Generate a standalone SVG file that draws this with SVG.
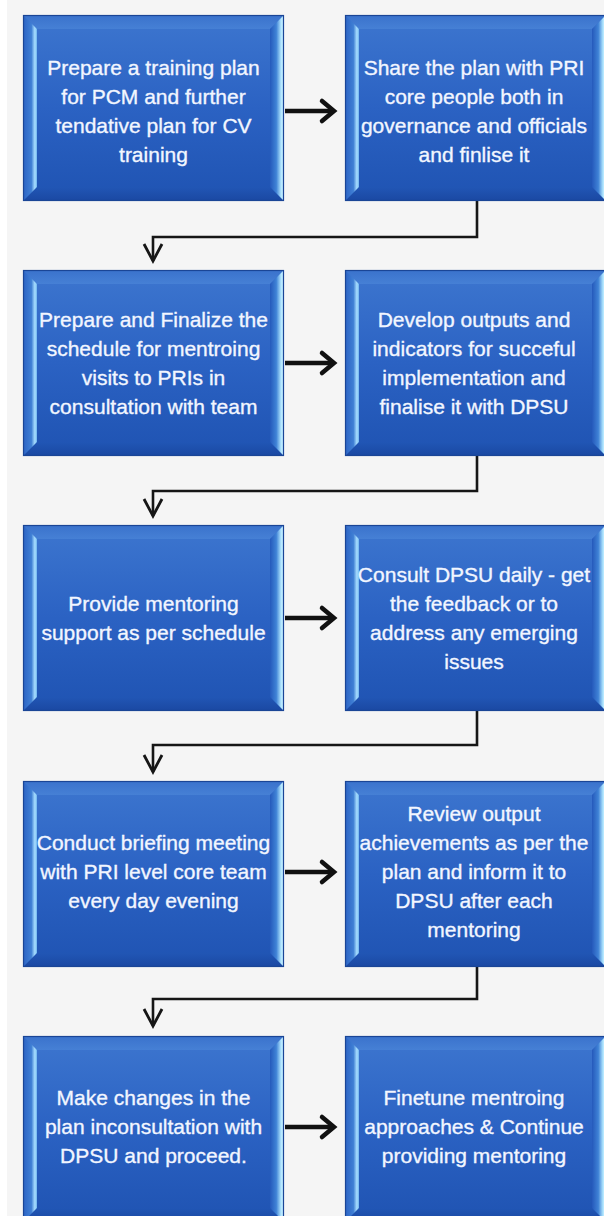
<svg xmlns="http://www.w3.org/2000/svg" xmlns:xlink="http://www.w3.org/1999/xlink" width="604" height="1216" viewBox="0 0 604 1216">
  <style>
    .lbl { font-family: "Liberation Sans", Arial, sans-serif; font-size: 21px; fill: #f2f6ff; stroke: #f2f6ff; stroke-width: 0.35; text-anchor: middle; }
    .flow { fill: none; stroke: #111; stroke-width: 4.5; }
    .elbow { fill: none; stroke: #161616; stroke-width: 2.6; stroke-linejoin: miter; }
  </style>
  <defs>
    <linearGradient id="faceGrad" x1="0" y1="0" x2="0" y2="1">
      <stop offset="0" stop-color="#3d76cf"/>
      <stop offset="0.5" stop-color="#2b62c3"/>
      <stop offset="1" stop-color="#1f53b2"/>
    </linearGradient>
    <linearGradient id="leftBevel" x1="0" y1="0" x2="1" y2="0">
      <stop offset="0" stop-color="#2c63c4"/>
      <stop offset="0.6" stop-color="#3f7fd4"/>
      <stop offset="0.85" stop-color="#a9dfff"/>
      <stop offset="1" stop-color="#6fb4ee"/>
    </linearGradient>
    <linearGradient id="rightBevel" x1="0" y1="0" x2="1" y2="0">
      <stop offset="0" stop-color="#2559bb"/>
      <stop offset="0.45" stop-color="#3f82d6"/>
      <stop offset="0.8" stop-color="#b4e8ff"/>
      <stop offset="1" stop-color="#cdf1ff"/>
    </linearGradient>
    <linearGradient id="topBevel" x1="0" y1="0" x2="0" y2="1">
      <stop offset="0" stop-color="#3a72cc"/>
      <stop offset="1" stop-color="#4680d5"/>
    </linearGradient>
    <linearGradient id="bottomBevel" x1="0" y1="0" x2="0" y2="1">
      <stop offset="0" stop-color="#2156b5"/>
      <stop offset="1" stop-color="#1a48a2"/>
    </linearGradient>

    <!-- bevelled process box, 261 x 186 -->
    <g id="bevelBox">
      <rect x="0" y="0" width="261" height="186" fill="url(#faceGrad)"/>
      <polygon points="0,0 261,0 247,14 14,14" fill="url(#topBevel)"/>
      <polygon points="0,186 261,186 247,172 14,172" fill="url(#bottomBevel)"/>
      <polygon points="0,0 14,14 14,172 0,186" fill="url(#leftBevel)"/>
      <polygon points="261,0 247,14 247,172 261,186" fill="url(#rightBevel)"/>
      <rect x="0.5" y="0.5" width="260" height="185" fill="none" stroke="#1a4596" stroke-width="1.2"/>
    </g>

    <marker id="chevronBold" markerUnits="userSpaceOnUse" viewBox="-20 -14 24 28" markerWidth="24" markerHeight="28" refX="0" refY="0" orient="auto">
      <path d="M -12,-10 L 0,0 L -12,10" fill="none" stroke="#111" stroke-width="4.5" stroke-linecap="round"/>
    </marker>
    <marker id="chevronThin" markerUnits="userSpaceOnUse" viewBox="-22 -12 26 24" markerWidth="26" markerHeight="24" refX="0" refY="0" orient="auto">
      <path d="M -17,-9 L 0,0 L -17,9" fill="none" stroke="#161616" stroke-width="2.8"/>
    </marker>
  </defs>

  <!-- page -->
  <rect x="0" y="0" width="604" height="1216" fill="#f5f5f5"/>
  <rect x="0" y="0" width="7" height="1216" fill="#ffffff"/>

  <!-- connectors -->
  <g id="connectors">
    <line class="flow" x1="285" y1="111" x2="334" y2="111" marker-end="url(#chevronBold)"/>
    <line class="flow" x1="285" y1="363" x2="334" y2="363" marker-end="url(#chevronBold)"/>
    <line class="flow" x1="285" y1="618" x2="334" y2="618" marker-end="url(#chevronBold)"/>
    <line class="flow" x1="285" y1="872" x2="334" y2="872" marker-end="url(#chevronBold)"/>
    <line class="flow" x1="285" y1="1127" x2="334" y2="1127" marker-end="url(#chevronBold)"/>

    <polyline class="elbow" points="477,201 477,237 153,237 153,261" marker-end="url(#chevronThin)"/>
    <polyline class="elbow" points="477,456 477,491 153,491 153,516" marker-end="url(#chevronThin)"/>
    <polyline class="elbow" points="477,711 477,745 153,745 153,772" marker-end="url(#chevronThin)"/>
    <polyline class="elbow" points="477,967 477,999 153,999 153,1026" marker-end="url(#chevronThin)"/>
  </g>

  <!-- row 1 -->
  <g id="node-training-plan">
    <use xlink:href="#bevelBox" x="23" y="15"/>
    <text class="lbl" x="153.5" y="75">Prepare a training plan</text>
    <text class="lbl" x="153.5" y="104">for PCM  and further</text>
    <text class="lbl" x="153.5" y="133">tendative plan for CV</text>
    <text class="lbl" x="153.5" y="162">training</text>
  </g>
  <g id="node-share-plan">
    <use xlink:href="#bevelBox" x="345" y="15"/>
    <text class="lbl" x="474" y="75">Share the plan with PRI</text>
    <text class="lbl" x="474" y="104">core people both in</text>
    <text class="lbl" x="474" y="133">governance and officials</text>
    <text class="lbl" x="474" y="162">and finlise it</text>
  </g>

  <!-- row 2 -->
  <g id="node-schedule">
    <use xlink:href="#bevelBox" x="23" y="270"/>
    <text class="lbl" x="153.5" y="327">Prepare and Finalize the</text>
    <text class="lbl" x="153.5" y="356">schedule for mentroing</text>
    <text class="lbl" x="153.5" y="385">visits to PRIs in</text>
    <text class="lbl" x="153.5" y="414">consultation with team</text>
  </g>
  <g id="node-outputs">
    <use xlink:href="#bevelBox" x="345" y="270"/>
    <text class="lbl" x="474" y="327">Develop outputs and</text>
    <text class="lbl" x="474" y="356">indicators for succeful</text>
    <text class="lbl" x="474" y="385">implementation and</text>
    <text class="lbl" x="474" y="414">finalise it with DPSU</text>
  </g>

  <!-- row 3 -->
  <g id="node-mentoring-support">
    <use xlink:href="#bevelBox" x="23" y="525"/>
    <text class="lbl" x="153.5" y="611">Provide mentoring</text>
    <text class="lbl" x="153.5" y="640">support as per schedule</text>
  </g>
  <g id="node-consult-dpsu">
    <use xlink:href="#bevelBox" x="345" y="525"/>
    <text class="lbl" x="474" y="582">Consult DPSU daily - get</text>
    <text class="lbl" x="474" y="611">the feedback or to</text>
    <text class="lbl" x="474" y="640">address any emerging</text>
    <text class="lbl" x="474" y="669">issues</text>
  </g>

  <!-- row 4 -->
  <g id="node-briefing">
    <use xlink:href="#bevelBox" x="23" y="781"/>
    <text class="lbl" x="153.5" y="850">Conduct briefing meeting</text>
    <text class="lbl" x="153.5" y="879">with PRI level core team</text>
    <text class="lbl" x="153.5" y="908">every day evening</text>
  </g>
  <g id="node-review">
    <use xlink:href="#bevelBox" x="345" y="781"/>
    <text class="lbl" x="474" y="821">Review output</text>
    <text class="lbl" x="474" y="850">achievements as per the</text>
    <text class="lbl" x="474" y="879">plan and inform it to</text>
    <text class="lbl" x="474" y="908">DPSU after each</text>
    <text class="lbl" x="474" y="937">mentoring</text>
  </g>

  <!-- row 5 -->
  <g id="node-changes">
    <use xlink:href="#bevelBox" x="23" y="1036"/>
    <text class="lbl" x="153.5" y="1105">Make  changes in the</text>
    <text class="lbl" x="153.5" y="1134">plan inconsultation with</text>
    <text class="lbl" x="153.5" y="1163">DPSU and proceed.</text>
  </g>
  <g id="node-finetune">
    <use xlink:href="#bevelBox" x="345" y="1036"/>
    <text class="lbl" x="474" y="1105">Finetune mentroing</text>
    <text class="lbl" x="474" y="1134">approaches &amp; Continue</text>
    <text class="lbl" x="474" y="1163">providing mentoring</text>
  </g>
</svg>
